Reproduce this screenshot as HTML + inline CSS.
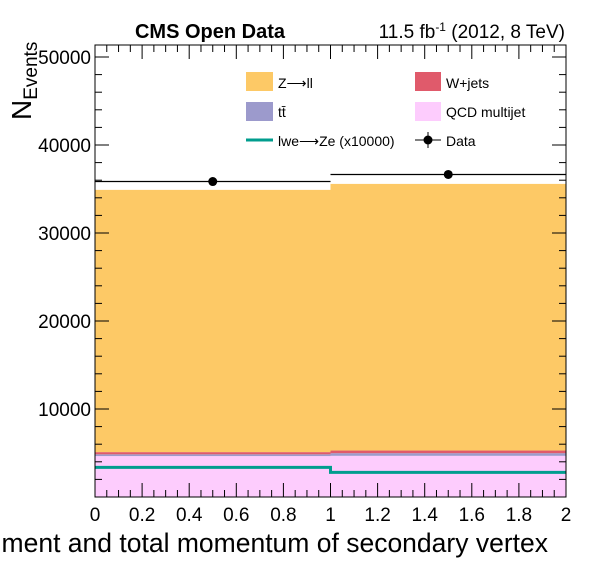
<!DOCTYPE html>
<html><head><meta charset="utf-8"><style>
body{margin:0;background:#fff;}
svg{display:block;font-family:"Liberation Sans",sans-serif;}
</style></head><body>
<svg id="chart" width="596" height="572" viewBox="0 0 596 572">
<rect x="0" y="0" width="596" height="572" fill="#fff"/>
<g id="bars"></g>
<g id="sig"></g>
<g id="data"></g>
<g id="axes"></g>
<text x="210" y="38" font-size="20" font-weight="bold" text-anchor="middle">CMS Open Data</text>
<text x="565" y="38" font-size="19" text-anchor="end">11.5 fb<tspan dy="-7" font-size="12">-1</tspan><tspan dy="7"> (2012, 8 TeV)</tspan></text>
<text transform="translate(31,120) rotate(-90)" font-size="28">N<tspan dy="6" font-size="19">Events</tspan></text>
<text x="548" y="552" font-size="26.5" text-anchor="end">ment and total momentum of secondary vertex</text>
<g>
<rect x="246" y="72" width="27" height="19" fill="#fdc966"/>
<text x="278" y="88" font-size="14">Z⟶ll</text>
<rect x="415" y="72" width="26" height="19" fill="#e05a6b"/>
<text x="446" y="88" font-size="14">W+jets</text>
<rect x="246" y="102" width="27" height="19" fill="#9c9acc"/>
<text x="278" y="117" font-size="14">tt̄</text>
<rect x="415" y="102" width="26" height="19" fill="#fdccfd"/>
<text x="446" y="117" font-size="14">QCD multijet</text>
<line x1="246" y1="140" x2="273" y2="140" stroke="#009d8e" stroke-width="3"/>
<text x="278" y="146" font-size="14">lwe⟶Ze (x10000)</text>
<line x1="415" y1="140" x2="441" y2="140" stroke="#000"/>
<line x1="428" y1="132" x2="428" y2="148" stroke="#000"/>
<circle cx="428" cy="140" r="4.5" fill="#000"/>
<text x="446" y="146" font-size="14">Data</text>
</g>
</svg>
<script>
const binEdges=[0,1,2];
const qcd=[4650,4680];
const ttbar=[200,300];
const wjets=[250,300];
const zll=[29800,30300];
const signal=[3370,2800];
const dataVals=[35850,36650];
const yTicks=[0,10000,20000,30000,40000,50000];
const xTicks=[0,0.2,0.4,0.6,0.8,1,1.2,1.4,1.6,1.8,2];
const xTickLabels=["0","0.2","0.4","0.6","0.8","1","1.2","1.4","1.6","1.8","2"];

const L=95,R=566,T=45,B=497;
const X=v=>L+(v-0)/(2-0)*(R-L);
const Y=v=>B-v/10000*88;
const NS="http://www.w3.org/2000/svg";
function mk(t,a,p){const e=document.createElementNS(NS,t);for(const k in a)e.setAttribute(k,a[k]);p.appendChild(e);return e;}
const gb=document.getElementById('bars');
const stacks=[[qcd,'#fdccfd','qcd'],[ttbar,'#9c9acc','ttbar'],[wjets,'#e05a6b','wjets'],[zll,'#fdc966','zll']];
for(let i=0;i<binEdges.length-1;i++){
  let base=0;
  for(const [arr,col,nm] of stacks){
    const top=base+arr[i];
    const r=mk('rect',{x:X(binEdges[i]),y:Y(top),width:X(binEdges[i+1])-X(binEdges[i]),height:Y(base)-Y(top),fill:col},gb);
    
    
    base=top;
  }
}
const gs=document.getElementById('sig');
let d='';
for(let i=0;i<signal.length;i++){d+=(i?'L':'M')+X(binEdges[i])+','+Y(signal[i])+'L'+X(binEdges[i+1])+','+Y(signal[i]);}
const sp=mk('path',{d:d,fill:'none',stroke:'#009d8e','stroke-width':3},gs);


const gd=document.getElementById('data');
for(let i=0;i<dataVals.length;i++){
  const cx=(X(binEdges[i])+X(binEdges[i+1]))/2,cy=Y(dataVals[i]);
  const l=mk('line',{x1:X(binEdges[i]),x2:X(binEdges[i+1]),y1:cy,y2:cy,stroke:'#000','stroke-width':1.2},gd);
  
  
  const c=mk('circle',{cx:cx,cy:cy,r:4.5,fill:'#000'},gd);
  
  
}
const ga=document.getElementById('axes');
const fr=mk('rect',{x:L,y:T,width:R-L,height:B-T,fill:'none',stroke:'#000','stroke-width':1},ga);


for(let v=0;v<=51000;v+=2000){
  const y=Y(v);if(y<T)break;
  const big=v%10000===0,len=big?14:7;
  mk('line',{x1:L,x2:L+len,y1:y,y2:y,stroke:'#000'},ga);
  mk('line',{x1:R,x2:R-len,y1:y,y2:y,stroke:'#000'},ga);
}
yTicks.forEach(v=>{if(v===0)return;const t=mk('text',{x:L-4,y:Y(v)+7,'font-size':19,'text-anchor':'end'},ga);t.textContent=v;
  
  });
for(let k=0;k<=40;k++){
  const v=k*0.05,x=X(v),big=k%4===0,len=big?14:7;
  mk('line',{x1:x,x2:x,y1:B,y2:B-len,stroke:'#000'},ga);
  mk('line',{x1:x,x2:x,y1:T,y2:T+len,stroke:'#000'},ga);
}
xTicks.forEach((v,i)=>{const t=mk('text',{x:X(v),y:521,'font-size':19,'text-anchor':'middle'},ga);t.textContent=xTickLabels[i];
  
  });
</script>
</body></html>
